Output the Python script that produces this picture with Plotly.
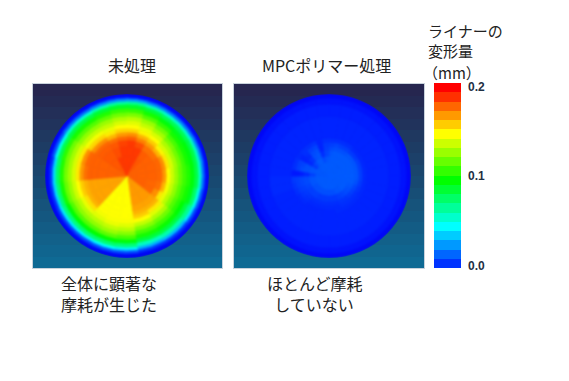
import plotly.graph_objects as go

# ---------- data (values in mm) ----------
SECTOR_EDGES_A = [0,15,30,45,60,80,100,115,128,150,172,190,207,223,245,265,285,305,332,346,360]
RING_EDGES_A = [0,10,20,30,36,40,44,48,52,56,60,64,68,72,75,78,80,82]
WEAR_A = [
 [189,189,189,189,182,172,158,150,144,136,124,110,92,70,32,8,1],
 [189,189,189,185,175,165,152,146,138,130,116,104,88,64,28,8,1],
 [183,183,182,178,170,160,150,142,132,122,110,98,84,60,26,6,1],
 [181,181,181,178,165,152,142,134,124,114,104,96,84,60,26,6,1],
 [181,181,181,180,172,155,142,132,122,112,104,98,86,62,28,7,1],
 [181,181,181,180,170,150,140,130,120,112,106,98,86,60,26,6,1],
 [181,181,180,178,165,148,138,128,118,110,104,96,80,54,22,5,1],
 [181,181,180,172,155,146,136,126,116,108,100,88,72,46,18,4,1],
 [170,170,170,168,165,154,144,134,122,112,102,88,66,38,14,3,0],
 [170,170,170,168,165,160,150,138,126,114,104,88,62,36,14,3,0],
 [150,150,150,150,150,150,149,144,136,126,114,98,76,48,20,4,0],
 [150,150,150,150,150,150,149,146,138,130,118,100,78,50,20,4,0],
 [150,150,150,150,150,150,148,144,136,128,116,100,78,48,18,4,0],
 [168,168,168,168,168,165,156,146,136,128,116,100,76,46,16,3,0],
 [168,168,168,168,168,165,160,150,140,130,120,104,78,44,14,3,0],
 [181,181,181,181,181,178,170,154,142,132,122,106,80,44,14,3,0],
 [181,181,181,181,181,180,172,154,142,132,122,108,84,52,20,4,1],
 [183,183,183,182,180,172,158,148,138,128,116,104,86,58,24,6,1],
 [189,189,185,183,178,165,154,146,138,130,118,106,90,64,28,7,1],
 [189,189,189,187,180,170,158,150,142,134,122,110,92,68,30,8,1],
]
SECTOR_EDGES_B = [0,10,20,30,40,50,60,70,80,90,100,110,120,130,140,150,160,170,180,190,200,210,220,230,240,250,260,270,280,290,300,310,320,330,340,350,360]
RING_EDGES_B = [0,14,20,26,30,34,38,60,72,78,82]
WEAR_B = [
 [20,20,19,17,15,12,10,9,6,2],
 [20,20,20,18,16,12,10,9,6,2],
 [20,20,20,18,15,12,10,9,6,2],
 [20,20,20,18,15,12,10,9,6,2],
 [20,20,20,19,14,11,10,9,6,2],
 [20,20,20,19,14,11,10,9,6,2],
 [20,20,20,19,15,11,10,9,6,2],
 [20,20,20,19,15,11,10,9,6,2],
 [20,20,20,19,15,11,10,9,6,2],
 [20,20,20,19,15,11,10,9,6,2],
 [20,20,20,18,14,11,10,9,6,2],
 [20,20,19,16,13,11,10,9,6,2],
 [20,20,18,15,12,11,10,9,6,2],
 [20,20,17,14,12,11,10,9,6,2],
 [20,19,16,13,12,11,10,9,6,2],
 [20,19,15,13,12,11,10,9,6,2],
 [20,18,14,12,11,11,10,9,6,2],
 [20,18,14,12,11,10,10,9,6,2],
 [20,18,14,12,11,10,10,9,6,2],
 [20,18,14,12,11,10,10,9,6,2],
 [20,18,14,12,11,10,10,9,6,2],
 [20,18,15,12,11,10,10,9,6,2],
 [20,18,15,13,12,11,10,9,6,2],
 [20,18,15,14,13,11,10,9,6,2],
 [20,19,16,15,14,12,10,9,6,2],
 [20,19,17,16,15,13,11,9,6,2],
 [20,19,17,16,15,14,11,9,6,2],
 [19,15,11,9,8,8,10,9,6,2],
 [19,19,18,17,15,12,10,9,6,2],
 [20,19,18,16,15,12,10,9,6,2],
 [19,14,11,10,10,11,10,9,6,2],
 [20,17,13,11,12,12,10,9,6,2],
 [20,20,18,17,15,12,10,9,6,2],
 [20,20,19,18,16,13,10,9,6,2],
 [20,17,12,10,10,10,10,9,6,2],
 [20,19,16,15,14,12,10,9,6,2],
]
BACKGROUND_LEVELS = [0,1,2,3,4,5,6,7,8,9,10,11,12,13,14,15]
BAND_COLORS = ["#FF0000","#FF3000","#FF6600","#FF9900","#FFCC00","#FFFF00","#CCFF00","#99FF00",
               "#66FF00","#33FF00","#00FF00","#00FF33","#00FF66","#00FF99","#00FFCC","#00FFFF",
               "#00CCFF","#0099FF","#0066FF","#0033FF"]
BAND_CENTERS = [0.195,0.185,0.175,0.165,0.155,0.145,0.135,0.125,0.115,0.105,
                0.095,0.085,0.075,0.065,0.055,0.045,0.035,0.025,0.015,0.005]
TICK_VALUES = [0.002,0.1,0.196]
TICK_LABELS = ["0.0","0.1","0.2"]

W, H = 569, 381
JP = "Noto Sans CJK JP"
JET = [[0,"#0000F5"],[0.04,"#0018FF"],[0.25,"#00FFFF"],[0.5,"#00FF00"],[0.75,"#FFFF00"],[1,"#FF0000"]]

def px(box):
    x0,y0,x1,y1 = box
    return dict(x=[x0/W,x1/W], y=[1-y1/H,1-y0/H])

def disc(table, sectors, rings, subplot):
    theta,width,base,r,c = [],[],[],[],[]
    for i,row in enumerate(table):
        for j,v in enumerate(row):
            theta.append((sectors[i]+sectors[i+1])/2)
            width.append(sectors[i+1]-sectors[i])
            base.append(rings[j])
            r.append(rings[j+1]-rings[j])
            c.append(v/1000)
    return go.Barpolar(theta=theta,width=width,base=base,r=r,subplot=subplot,hoverinfo="skip",
        marker=dict(color=c,cmin=0,cmax=0.2,colorscale=JET,showscale=False,
                    line=dict(color=c,cmin=0,cmax=0.2,colorscale=JET,width=0.8)))

def bg(xa,ya):
    return go.Heatmap(z=[[v] for v in BACKGROUND_LEVELS],xaxis=xa,yaxis=ya,showscale=False,hoverinfo="skip",
        zmin=0,zmax=15,colorscale=[[0,"#0F6A94"],[0.5,"#19476F"],[1,"#26264F"]])

fig = go.Figure()
fig.add_trace(bg("x","y"))
fig.add_trace(bg("x2","y2"))
n = len(BAND_COLORS)
scale = []
for i,c in enumerate(reversed(BAND_COLORS)):
    scale += [[i/n,c],[(i+1)/n,c]]
fig.add_trace(go.Heatmap(x=["a"],y=BAND_CENTERS,z=[[v] for v in BAND_CENTERS],xaxis="x3",yaxis="y3",
    zmin=0,zmax=0.2,colorscale=scale,showscale=False,hoverinfo="skip"))
fig.add_trace(disc(WEAR_A,SECTOR_EDGES_A,RING_EDGES_A,"polar"))
fig.add_trace(disc(WEAR_B,SECTOR_EDGES_B,RING_EDGES_B,"polar2"))

hidden = dict(visible=False,showgrid=False,zeroline=False)
frame = dict(showticklabels=False,ticks="",showgrid=False,zeroline=False,showline=True,linecolor="#C8D2DC",linewidth=1,mirror=True)
p1, p2, cb = px((33,84,222,268)), px((234,84,424,268)), px((434,83,461,268))
polar = lambda cx: dict(domain=px((cx-82,176-82,cx+82,176+82)),bgcolor="rgba(0,0,0,0)",
    radialaxis=dict(visible=False,range=[0,82]),
    angularaxis=dict(visible=False,rotation=90,direction="clockwise"))
ann = lambda t,x,y,a="left",size=16: dict(text=t,x=x/W,y=1-y/H,xref="paper",yref="paper",xanchor=a,yanchor="middle",align="left",
    showarrow=False,font=dict(family=JP,size=size,color="#222222"))

fig.update_layout(width=W,height=H,autosize=False,margin=dict(l=0,r=0,t=0,b=0,autoexpand=False),paper_bgcolor="white",plot_bgcolor="white",
    showlegend=False,
    xaxis=dict(domain=p1["x"],**frame),yaxis=dict(domain=p1["y"],**frame),
    xaxis2=dict(domain=p2["x"],anchor="y2",**frame),yaxis2=dict(domain=p2["y"],anchor="x2",**frame),
    xaxis3=dict(domain=cb["x"],anchor="y3",**hidden),
    yaxis3=dict(domain=cb["y"],anchor="x3",range=[0,0.2],side="right",tickvals=TICK_VALUES,ticktext=TICK_LABELS,
                showgrid=False,zeroline=False,ticks="",ticklabelstandoff=6,
                tickfont=dict(family="Liberation Sans",size=12,color="#1F3044",weight="bold")),
    polar=polar(127),polar2=polar(329),
    annotations=[ann("未処理",132,65,"center"),ann("MPCポリマー処理",326,65,"center"),
        ann("全体に顕著な<br>摩耗が生じた",59,293),
        ann("ほとんど摩耗<br>\u00a0\u00a0していない",265,293),
        ann("ライナーの<br>変形量",426,41,size=15),ann("（mm）",421,72,size=15)])
fig.write_html("out.html", config=dict(displayModeBar=False),
    post_script="document.body.style.margin='0';document.querySelectorAll('.barlayer').forEach(function(g){g.style.filter='blur(1.2px)';});")
